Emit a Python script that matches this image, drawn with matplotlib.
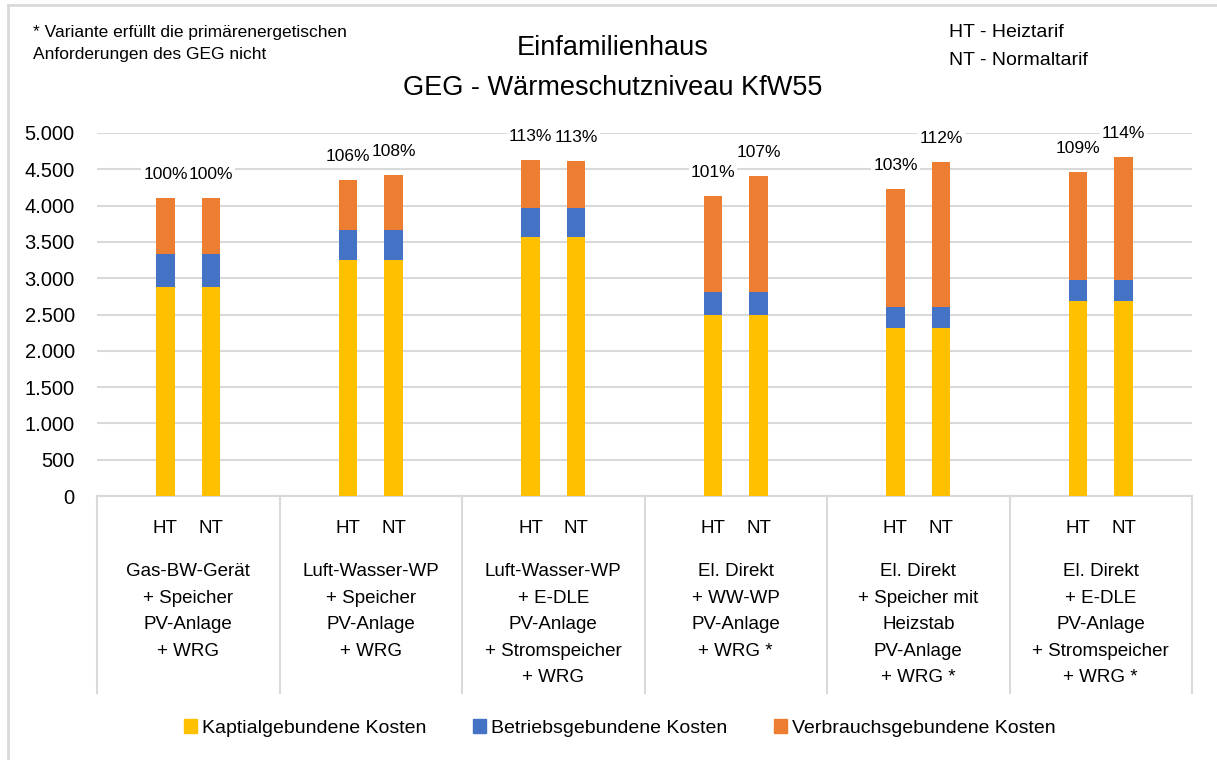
import matplotlib
matplotlib.use("Agg")
import matplotlib.pyplot as plt
from matplotlib.lines import Line2D
from matplotlib.patches import Patch
import numpy as np

plt.rcParams["font.family"] = ["Liberation Sans", "DejaVu Sans"]

# Daten
varianten = [
    "Gas-BW-Gerät\n+ Speicher\nPV-Anlage\n+ WRG",
    "Luft-Wasser-WP\n+ Speicher\nPV-Anlage\n+ WRG",
    "Luft-Wasser-WP\n+ E-DLE\nPV-Anlage\n+ Stromspeicher\n+ WRG",
    "El. Direkt\n+ WW-WP\nPV-Anlage\n+ WRG *",
    "El. Direkt\n+ Speicher mit\nHeizstab\nPV-Anlage\n+ WRG *",
    "El. Direkt\n+ E-DLE\nPV-Anlage\n+ Stromspeicher\n+ WRG *",
]
tarife = ["HT", "NT"]
kapital = [2878, 3250, 3562, 2492, 2313, 2685]
betrieb = [454, 413, 400, 313, 285, 285]
verbrauch_ht = [767, 684, 660, 1322, 1633, 1490]
verbrauch_nt = [767, 757, 651, 1601, 1997, 1694]
anteil_ht = ["100%", "106%", "113%", "101%", "103%", "109%"]
anteil_nt = ["100%", "108%", "113%", "107%", "112%", "114%"]

legende = ["Kaptialgebundene Kosten", "Betriebsgebundene Kosten", "Verbrauchsgebundene Kosten"]
farben = ["#FFC000", "#4472C4", "#ED7D31"]
grau = "#D9D9D9"

W, H = 1217, 760
fig = plt.figure(figsize=(W / 100, H / 100), dpi=100)
ax = fig.add_axes([97 / W, 1 - 496 / H, (1192 - 97) / W, 363 / H])


def fy(px):
    # Pixelzeile (von oben) -> Figurkoordinate
    return 1 - px / H


x = np.arange(len(varianten))
kap = np.array(kapital)
bet = np.array(betrieb)
for off, verb, lab in [(-0.125, verbrauch_ht, anteil_ht), (0.125, verbrauch_nt, anteil_nt)]:
    verb = np.array(verb)
    ax.bar(x + off, kap, 0.1, color=farben[0], zorder=3)
    ax.bar(x + off, bet, 0.1, bottom=kap, color=farben[1], zorder=3)
    ax.bar(x + off, verb, 0.1, bottom=kap + bet, color=farben[2], zorder=3)
    for xi, top, t in zip(x + off, kap + bet + verb, lab):
        ax.annotate(t, (xi, top), xytext=(0, 17), textcoords="offset points",
                    ha="center", va="center", fontsize=12.5, zorder=4,
                    bbox=dict(boxstyle="square,pad=0.12", fc="white", ec="none"))

ax.set_xlim(-0.5, len(varianten) - 0.5)
ax.set_ylim(0, 5000)
ax.set_yticks(np.arange(0, 5001, 500))
ax.set_yticklabels([f"{v:,.0f}".replace(",", ".") for v in np.arange(0, 5001, 500)])
ax.tick_params(axis="y", length=0, pad=16, labelsize=14.5)
ax.set_xticks([])
ax.grid(axis="y", color=grau, linewidth=1.5, zorder=0)
for s in ["top", "right", "left"]:
    ax.spines[s].set_visible(False)
ax.spines["bottom"].set_color(grau)
ax.spines["bottom"].set_linewidth(1.5)
ax.set_axisbelow(True)

# mehrstufige Kategorieachse
tr = ax.get_xaxis_transform()
for b in np.arange(-0.5, len(varianten), 1.0):
    ax.add_line(Line2D([b, b], [0, -(693 - 496) / 363], transform=tr, color=grau,
                       linewidth=1.5, clip_on=False))
for xi, name in zip(x, varianten):
    for off, t in zip([-0.125, 0.125], tarife):
        ax.text(xi + off, -(533 - 496) / 363, t, transform=tr, ha="center", va="baseline", fontsize=13.5)
    ax.text(xi, -(563 - 496) / 363, name, transform=tr, ha="center", va="top",
            fontsize=13.5, linespacing=1.74)

# Titel und Hinweise
fig.text(613 / W, fy(55), "Einfamilienhaus", ha="center", va="baseline", fontsize=19.5)
fig.text(613 / W, fy(95), "GEG - Wärmeschutzniveau KfW55", ha="center", va="baseline", fontsize=19.5)
fig.text(33 / W, fy(37), "* Variante erfüllt die primärenergetischen", ha="left", va="baseline", fontsize=12.5)
fig.text(33 / W, fy(59), "Anforderungen des GEG nicht", ha="left", va="baseline", fontsize=12.5)
fig.text(949 / W, fy(37), "HT - Heiztarif", ha="left", va="baseline", fontsize=14)
fig.text(949 / W, fy(65), "NT - Normaltarif", ha="left", va="baseline", fontsize=14)

handles = [Patch(color=c) for c in farben]
fig.legend(handles, legende, loc="center", bbox_to_anchor=(620 / W, fy(728)), ncol=3,
           frameon=False, fontsize=14, handlelength=0.68, handleheight=0.68,
           handletextpad=0.25, columnspacing=2.4)

# Rahmen (nur links und oben sichtbar)
fig.add_artist(Line2D([8 / W, 8 / W], [0, fy(5)], transform=fig.transFigure, color=grau, linewidth=2))
fig.add_artist(Line2D([8 / W, 1], [fy(5), fy(5)], transform=fig.transFigure, color=grau, linewidth=2))

fig.savefig("out.png", dpi=100)
